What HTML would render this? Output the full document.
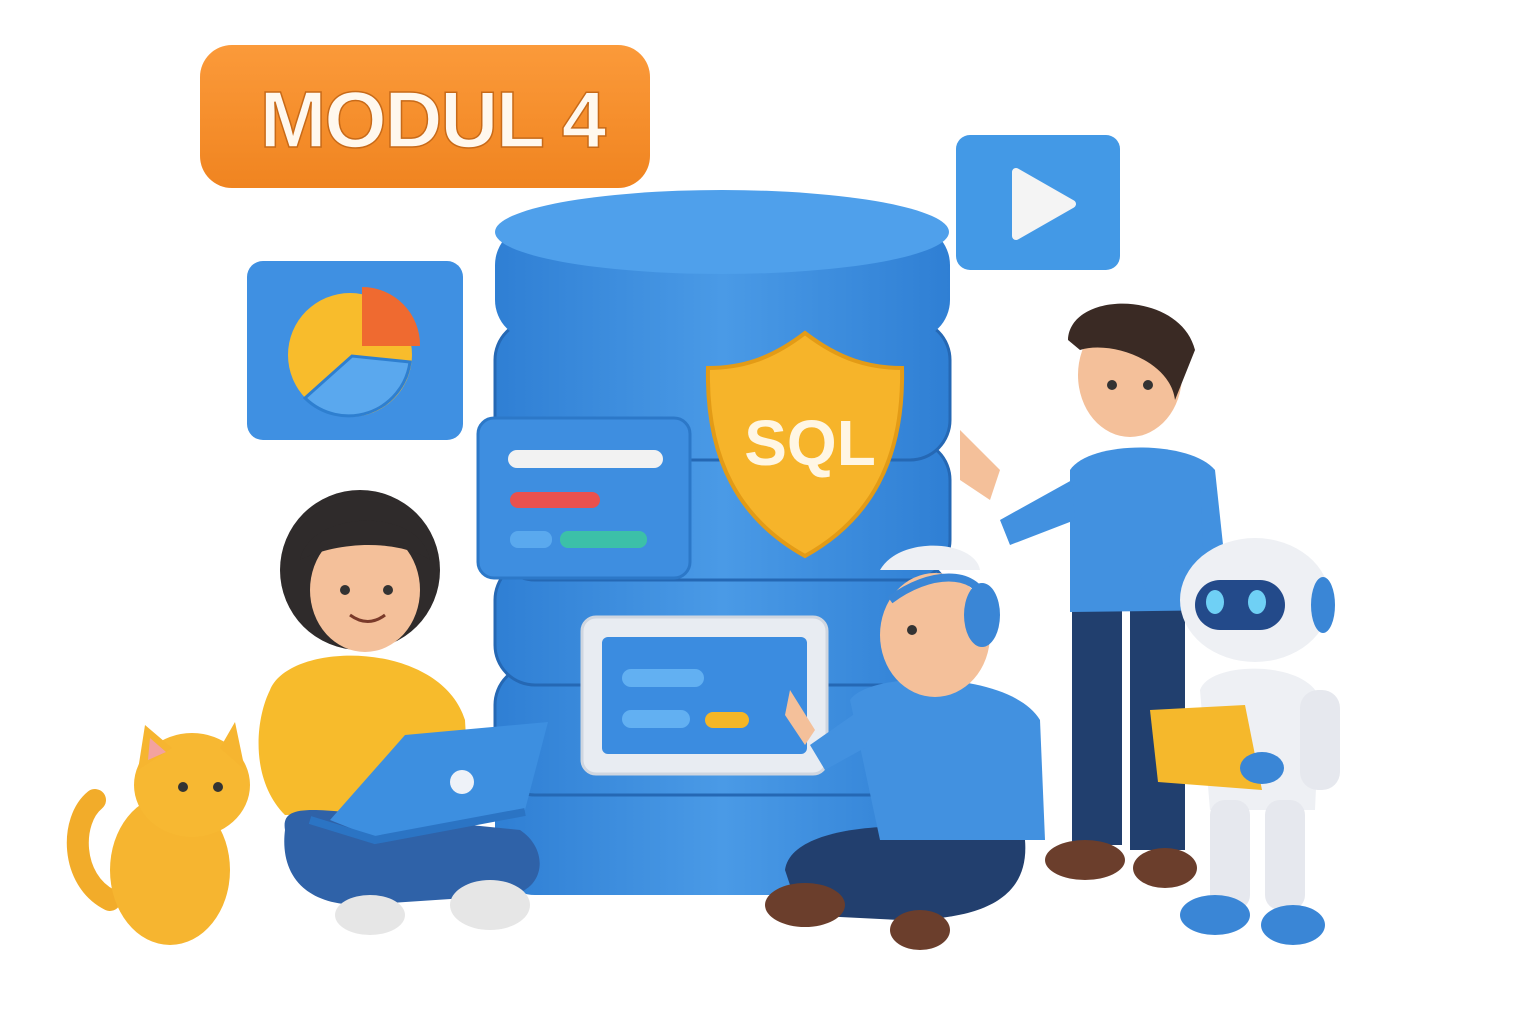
<!DOCTYPE html>
<html><head><meta charset="utf-8"><style>
html,body{margin:0;padding:0;background:#fff;width:1536px;height:1024px;overflow:hidden}
svg{display:block}
</style></head><body>
<svg width="1536" height="1024" viewBox="0 0 1536 1024" xmlns="http://www.w3.org/2000/svg">
<defs>
<linearGradient id="cyl" x1="0" x2="1" y1="0" y2="0">
<stop offset="0" stop-color="#2f7fd4"/><stop offset="0.5" stop-color="#4a9ae6"/><stop offset="1" stop-color="#2f7fd4"/></linearGradient>
<linearGradient id="org" x1="0" x2="0" y1="0" y2="1"><stop offset="0" stop-color="#fb9a3a"/><stop offset="1" stop-color="#f08420"/></linearGradient>
</defs>
<!-- badge -->
<rect x="200" y="45" width="450" height="143" rx="32" fill="url(#org)"/>
<text x="432" y="147" text-anchor="middle" font-family="Liberation Sans, sans-serif" font-weight="bold" font-size="80" fill="#fff8ee" stroke="#c86a18" stroke-width="1.5" letter-spacing="-2">MODUL 4</text>
<!-- pie box -->
<rect x="247" y="261" width="216" height="179" rx="16" fill="#3f90e2"/>
<circle cx="350" cy="355" r="62" fill="#f8bc2c"/>
<path d="M305 398 A62 62 0 0 0 410 362 L352 356Z" fill="#5aa8ee" stroke="#2e7fd0" stroke-width="3"/>
<path d="M362 287 L362 346 L420 346 A58 58 0 0 0 362 287Z" fill="#ef6a30"/>
<!-- play -->
<rect x="956" y="135" width="164" height="135" rx="14" fill="#4399e6"/>
<path d="M1016 172 L1016 236 L1072 204Z" fill="#f4f4f4" stroke="#f4f4f4" stroke-width="8" stroke-linejoin="round"/>
<!-- cylinder -->
<g>
<rect x="495" y="780" width="455" height="115" rx="40" fill="url(#cyl)"/>
<rect x="495" y="665" width="455" height="130" rx="40" fill="url(#cyl)" stroke="#2568b4" stroke-width="3"/>
<rect x="495" y="560" width="455" height="125" rx="40" fill="url(#cyl)" stroke="#2568b4" stroke-width="3"/>
<rect x="495" y="440" width="455" height="140" rx="40" fill="url(#cyl)" stroke="#2568b4" stroke-width="3"/>
<rect x="495" y="320" width="455" height="140" rx="40" fill="url(#cyl)" stroke="#2568b4" stroke-width="3"/>
<rect x="495" y="225" width="455" height="115" rx="40" fill="url(#cyl)"/>
<ellipse cx="722" cy="232" rx="227" ry="42" fill="#4fa0eb"/>
</g>
<!-- left panel -->
<rect x="478" y="418" width="212" height="160" rx="16" fill="#3e8ee0" stroke="#2c78c8" stroke-width="3"/>
<rect x="508" y="450" width="155" height="18" rx="9" fill="#f2f2f2"/>
<rect x="510" y="492" width="90" height="16" rx="8" fill="#e9514e"/>
<rect x="510" y="531" width="42" height="17" rx="8" fill="#5aa9ee"/>
<rect x="560" y="531" width="87" height="17" rx="8" fill="#3cc0a8"/>
<!-- shield -->
<path d="M805 333 C770 360 740 368 708 368 C706 460 740 520 805 556 C870 520 904 460 902 368 C870 368 840 360 805 333Z" fill="#f6b42a" stroke="#e39b16" stroke-width="4"/>
<text x="810" y="465" text-anchor="middle" font-family="Liberation Sans, sans-serif" font-weight="bold" font-size="64" fill="#fff6e4">SQL</text>
<!-- screen -->
<rect x="582" y="617" width="245" height="157" rx="14" fill="#e8ecf2" stroke="#cfd6e0" stroke-width="3"/>
<rect x="602" y="637" width="205" height="117" rx="6" fill="#3b8ce0"/>
<rect x="622" y="669" width="82" height="18" rx="9" fill="#62b0f2"/>
<rect x="622" y="710" width="68" height="18" rx="9" fill="#62b0f2"/>
<rect x="705" y="712" width="44" height="16" rx="8" fill="#f5b626"/>
<!-- cat -->
<path d="M110 900 C70 880 70 820 95 800" stroke="#f2ac2a" stroke-width="22" fill="none" stroke-linecap="round"/>
<ellipse cx="170" cy="870" rx="60" ry="75" fill="#f6b530"/>
<ellipse cx="192" cy="785" rx="58" ry="52" fill="#f7b832"/>
<path d="M138 770 L145 725 L172 748Z M220 748 L235 722 L245 770Z" fill="#f6b530"/>
<path d="M148 760 L150 738 L166 752Z" fill="#f3a2a0"/>
<circle cx="183" cy="787" r="5" fill="#333"/><circle cx="218" cy="787" r="5" fill="#333"/>
<!-- woman -->
<ellipse cx="360" cy="570" rx="80" ry="80" fill="#2f2b2b"/>
<ellipse cx="365" cy="590" rx="55" ry="62" fill="#f4c09a"/>
<path d="M300 560 C310 510 420 505 430 560 C400 540 340 540 300 560Z" fill="#2f2b2b"/>
<circle cx="345" cy="590" r="5" fill="#333"/><circle cx="388" cy="590" r="5" fill="#333"/>
<path d="M350 615 Q368 628 385 615" stroke="#7a3a2a" stroke-width="3" fill="none"/>
<path d="M270 690 C290 640 440 640 465 720 L470 810 L285 815 C250 780 255 720 270 690Z" fill="#f7bb2c"/>
<path d="M285 830 C280 800 320 810 420 820 L520 830 C550 850 545 890 510 895 L360 905 C300 905 280 870 285 830Z" fill="#2f62a8"/>
<ellipse cx="490" cy="905" rx="40" ry="25" fill="#e6e6e6"/>
<ellipse cx="370" cy="915" rx="35" ry="20" fill="#e6e6e6"/>
<path d="M330 820 L375 838 L525 810 L548 722 L405 735Z" fill="#3d8fe0"/>
<path d="M310 820 L375 840 L525 812" stroke="#2b74c4" stroke-width="8" fill="none"/>
<circle cx="462" cy="782" r="12" fill="#eef2f8"/>
<!-- standing man -->
<rect x="1072" y="600" width="50" height="245" fill="#213f6e"/>
<rect x="1130" y="600" width="55" height="250" fill="#213f6e"/>
<ellipse cx="1085" cy="860" rx="40" ry="20" fill="#6b3e2c"/>
<ellipse cx="1165" cy="868" rx="32" ry="20" fill="#6b3e2c"/>
<path d="M1070 470 C1090 440 1190 440 1215 470 L1230 610 L1070 612Z" fill="#4291e0"/>
<path d="M1072 480 L1000 520 L1010 545 L1075 520Z" fill="#4291e0"/>
<path d="M1200 480 L1205 590 L1150 600 L1140 575 L1175 565Z" fill="#4291e0"/>
<ellipse cx="1130" cy="375" rx="52" ry="62" fill="#f4c09a"/>
<path d="M1068 340 C1070 290 1180 290 1195 350 L1175 400 C1170 360 1110 340 1080 350Z" fill="#3a2a24"/>
<path d="M960 430 L1000 470 L990 500 L960 480Z" fill="#f4c09a"/>
<circle cx="1112" cy="385" r="5" fill="#333"/><circle cx="1148" cy="385" r="5" fill="#333"/>
<!-- seated man -->
<path d="M785 870 C790 830 880 820 960 830 L1025 840 C1030 900 980 920 900 920 L800 915Z" fill="#223f6e"/>
<ellipse cx="805" cy="905" rx="40" ry="22" fill="#6b3e2c"/>
<ellipse cx="920" cy="930" rx="30" ry="20" fill="#6b3e2c"/>
<path d="M850 700 C870 670 1010 670 1040 720 L1045 840 L880 840 Z" fill="#4291e0"/>
<path d="M860 710 L810 745 L825 770 L870 745Z" fill="#4291e0"/>
<ellipse cx="935" cy="635" rx="55" ry="62" fill="#f4c09a"/>
<path d="M880 570 C900 535 975 540 980 570 Z" fill="#eef0f4"/>
<ellipse cx="982" cy="615" rx="18" ry="32" fill="#3a86d6"/>
<path d="M890 600 C930 570 975 570 985 600" stroke="#3a86d6" stroke-width="8" fill="none"/>
<circle cx="912" cy="630" r="5" fill="#333"/>
<path d="M790 690 L815 730 L805 745 L785 715Z" fill="#f4c09a"/>
<!-- robot -->
<ellipse cx="1255" cy="600" rx="75" ry="62" fill="#eef0f4"/>
<rect x="1195" y="580" width="90" height="50" rx="25" fill="#234a8a"/>
<ellipse cx="1215" cy="602" rx="9" ry="12" fill="#6fd0f5"/>
<ellipse cx="1257" cy="602" rx="9" ry="12" fill="#6fd0f5"/>
<ellipse cx="1323" cy="605" rx="12" ry="28" fill="#3a86d6"/>
<path d="M1200 690 C1210 660 1310 660 1320 700 L1315 810 L1210 810Z" fill="#eef0f4"/>
<rect x="1210" y="800" width="40" height="110" rx="15" fill="#e6e8ee"/>
<rect x="1265" y="800" width="40" height="110" rx="15" fill="#e6e8ee"/>
<ellipse cx="1215" cy="915" rx="35" ry="20" fill="#3a86d6"/>
<ellipse cx="1293" cy="925" rx="32" ry="20" fill="#3a86d6"/>
<rect x="1300" y="690" width="40" height="100" rx="18" fill="#e6e8ee"/>
<path d="M1150 710 L1245 705 L1262 790 L1158 782Z" fill="#f5b82c"/>
<ellipse cx="1262" cy="768" rx="22" ry="16" fill="#3a86d6"/>
</svg>
</body></html>
